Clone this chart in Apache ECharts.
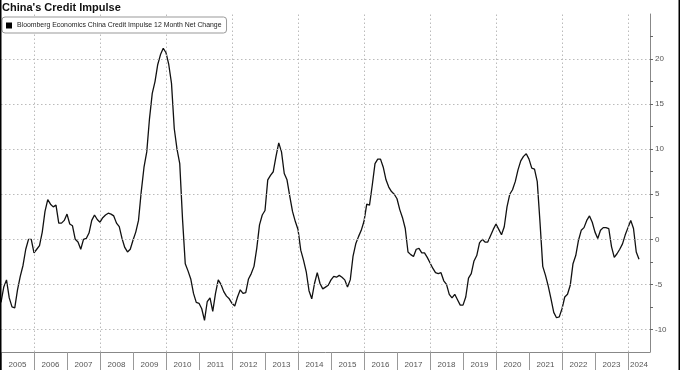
<!DOCTYPE html>
<html><head><meta charset="utf-8">
<script src="https://cdn.jsdelivr.net/npm/echarts@6/dist/echarts.min.js"></script>
<style>html,body{margin:0;padding:0;background:#fff}#c{width:680px;height:370px}</style>
</head><body><div id="c"></div>
<script>
const startYear = 2005;
const seriesName = 'Bloomberg Economics China Credit Impulse 12 Month Net Change';
const titleText = "China's Credit Impulse";

// monthly values, Jan 2005 onward
const values2005_2008 = [
  -7.0, -5.3, -4.5, -6.5, -7.5, -7.6, -5.6, -4.1, -2.9, -1.1, 0.0, 0.0,
  -1.5, -1.1, -0.7, 0.8, 3.1, 4.4, 3.9, 3.6, 3.8, 1.8, 1.8, 2.1,
  2.8, 1.7, 1.5, 0.0, -0.3, -1.1, 0.0, 0.1, 0.7, 2.1, 2.7, 2.2,
  1.9, 2.4, 2.7, 2.9, 2.8, 2.6, 1.8, 1.4, 0.1, -0.9, -1.4, -1.1
];
const values2009_2012 = [
  -0.1, 0.8, 2.1, 5.3, 8.0, 9.7, 13.4, 16.2, 17.5, 19.4, 20.5, 21.2,
  20.7, 19.4, 17.3, 12.3, 10.0, 8.4, 2.3, -2.7, -3.5, -4.4, -6.0, -7.0,
  -7.1, -7.7, -9.0, -6.9, -6.5, -8.0, -6.0, -4.5, -5.0, -5.8, -6.3, -6.6,
  -7.1, -7.4, -6.4, -5.6, -6.0, -5.9, -4.4, -3.8, -3.0, -1.0, 1.6, 2.7
];
const values2013_2016 = [
  3.2, 6.6, 7.1, 7.5, 9.2, 10.7, 9.7, 7.3, 6.6, 4.8, 3.1, 2.0,
  1.1, -1.2, -2.3, -3.6, -5.7, -6.6, -4.9, -3.7, -4.9, -5.5, -5.3, -5.1,
  -4.5, -4.1, -4.2, -4.0, -4.2, -4.5, -5.3, -4.5, -1.9, -0.5, 0.3, 1.0,
  2.0, 3.9, 3.8, 6.0, 8.4, 8.9, 8.9, 8.0, 6.6, 5.8, 5.3, 5.0
];
const values2017_2020 = [
  4.5, 3.3, 2.4, 1.2, -1.4, -1.7, -1.9, -1.1, -1.0, -1.5, -1.5, -2.0,
  -2.6, -3.2, -3.7, -3.8, -3.7, -4.6, -5.0, -6.1, -6.5, -6.1, -6.7, -7.3,
  -7.3, -6.4, -4.3, -3.8, -2.4, -1.8, -0.4, 0.0, -0.3, -0.3, 0.4, 1.1,
  1.7, 1.1, 0.5, 1.4, 3.6, 5.0, 5.5, 6.4, 7.7, 8.7, 9.2, 9.5
];
const values2021_2024 = [
  8.9, 7.9, 7.8, 6.4, 1.9, -3.0, -4.0, -5.2, -6.6, -8.1, -8.7, -8.6,
  -7.7, -6.4, -6.1, -5.1, -2.7, -1.8, -0.1, 1.0, 1.3, 2.1, 2.6, 1.9,
  0.8, 0.1, 1.0, 1.3, 1.3, 1.2, -0.8, -2.0, -1.6, -1.1, -0.5, 0.5,
  1.3, 2.1, 1.2, -1.4, -2.2
];

const yearLabels = [2005,2006,2007,2008,2009,2010,2011,2012,2013,2014,2015,2016,2017,2018,2019,2020,2021,2022,2023,2024];
const gridYears = [2006,2008,2010,2012,2014,2016,2018,2020,2022,2024];
const yTickLabels = [-10,-5,0,5,10,15,20];
const yMinorTicks = [-10,-7.5,-5,-2.5,0,2.5,5,7.5,10,12.5,15,17.5,20,22.5];
const yMin = -12.5, yMax = 25;
const xMaxMonths = 236;

const values = [].concat(values2005_2008, values2009_2012, values2013_2016, values2017_2020, values2021_2024);
const data = values.map((v, i) => [i, v]);
const monthsOf = y => (y - startYear) * 12;
const lastYear = yearLabels[yearLabels.length - 1];
const labelCenters = yearLabels.map(y => y === lastYear ? (monthsOf(y) + xMaxMonths) / 2 : monthsOf(y) + 6);
const yearStarts = yearLabels.map(monthsOf);

const chart = echarts.init(document.getElementById('c'), null, {renderer: 'canvas'});
const font = 'Liberation Sans';
chart.setOption({
  animation: false,
  backgroundColor: '#fff',
  textStyle: {fontFamily: font},
  title: {
    text: titleText, left: 2, top: 2, padding: 0,
    textStyle: {fontSize: 11, fontWeight: 'bold', color: '#111', fontFamily: font}
  },
  legend: {
    data: [seriesName], left: 2, top: 17, padding: [5, 5, 4, 4], z: 10,
    icon: 'rect', itemWidth: 6, itemHeight: 6,
    borderColor: '#999', borderWidth: 1, borderRadius: 3, backgroundColor: '#fff',
    textStyle: {fontSize: 6.9, color: '#222', fontFamily: font},
    itemStyle: {color: '#000'}
  },
  grid: {left: 1, right: 30, top: 14, bottom: 18, containLabel: false, outerBoundsMode: 'none'},
  xAxis: {
    type: 'value', min: 0, max: xMaxMonths,
    axisLine: {show: true, onZero: false, lineStyle: {color: '#888', width: 1}},
    axisTick: {show: true, customValues: yearStarts, length: 18, lineStyle: {color: '#999'}},
    axisLabel: {customValues: labelCenters, formatter: v => String(startYear + Math.floor(v / 12)),
      fontSize: 8, color: '#555', margin: 9},
    splitLine: {show: false}
  },
  yAxis: {
    type: 'value', position: 'right', min: yMin, max: yMax,
    axisLine: {show: true, onZero: false, lineStyle: {color: '#888', width: 1}},
    axisTick: {show: true, customValues: yMinorTicks, length: 3, lineStyle: {color: '#666'}},
    axisLabel: {customValues: yTickLabels, fontSize: 8, color: '#555', margin: 5},
    splitLine: {show: false},
    name: 'Index', nameLocation: 'middle', nameRotate: -90, nameGap: 22,
    nameTextStyle: {fontSize: 8, color: '#555'}
  },
  series: [
    {
      name: 'grid', type: 'line', data: data, symbol: 'none', silent: true, z: 1,
      lineStyle: {opacity: 0},
      markLine: {
        silent: true, symbol: 'none', label: {show: false},
        lineStyle: {color: '#bbb', type: [1.5, 2.5], width: 1},
        data: yTickLabels.map(v => ({yAxis: v})).concat(gridYears.map(y => ({xAxis: monthsOf(y)})))
      }
    },
    {
      name: seriesName, type: 'line', data: data, showSymbol: false, symbol: 'none', z: 3,
      lineStyle: {color: '#111', width: 1.3}, itemStyle: {color: '#000'}
    }
  ],
  graphic: [
    {type: 'rect', left: 0, top: 0, shape: {width: 1.5, height: 370}, style: {fill: '#000'}, z: 100},
    {type: 'rect', right: 0, top: 0, shape: {width: 1.5, height: 370}, style: {fill: '#000'}, z: 100}
  ]
});
</script></body></html>
